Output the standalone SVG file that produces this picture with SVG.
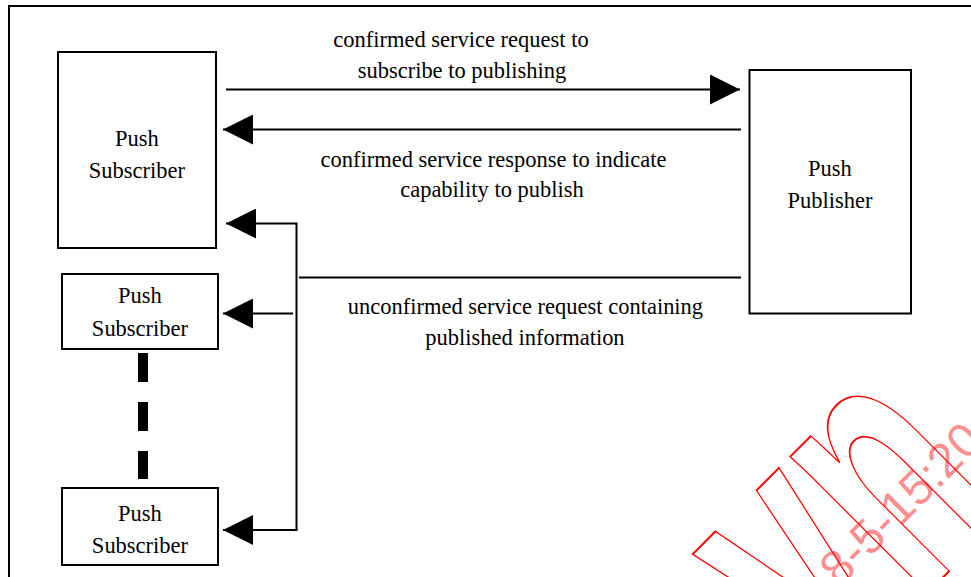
<svg xmlns="http://www.w3.org/2000/svg" width="971" height="577" viewBox="0 0 971 577">
  <defs>
    <style>
      .frame { fill: none; stroke: #000; stroke-width: 2; }
      .box { fill: #fff; stroke: #000; stroke-width: 2; }
      .wire { fill: none; stroke: #000; stroke-width: 2; }
      .lbl { font-family: "Liberation Serif", "Times New Roman", serif; font-size: 24px; fill: #000; text-anchor: middle; }
      .wm-big { font-family: "Liberation Sans", Arial, sans-serif; font-weight: bold; font-size: 366px; fill: none; stroke: #ff0000; stroke-width: 2; }
      .wm-date { font-family: "Liberation Sans", Arial, sans-serif; font-size: 48px; fill: #ff0000; fill-opacity: 0.45; }
    </style>
    <marker id="head" markerUnits="userSpaceOnUse" markerWidth="30" markerHeight="30" viewBox="0 0 28 28" refX="28" refY="14" orient="auto">
      <path d="M0,0 L28,14 L0,28 Z" fill="#000"/>
    </marker>
  </defs>

  <rect width="971" height="577" fill="#fff"/>

  <!-- outer frame (top and left edges) -->
  <path class="frame" d="M9,577 V6 H971"/>

  <!-- connectors -->
  <g id="connectors">
    <line class="wire" x1="226" y1="89.5" x2="740" y2="89.5" marker-end="url(#head)"/>
    <line class="wire" x1="741" y1="129.5" x2="223" y2="129.5" marker-end="url(#head)"/>
    <line class="wire" x1="741" y1="277.5" x2="299" y2="277.5"/>
    <path class="wire" d="M296.5,530 V223.5 H226" marker-end="url(#head)"/>
    <line class="wire" x1="293" y1="313.5" x2="223" y2="313.5" marker-end="url(#head)"/>
    <line class="wire" x1="297.5" y1="530" x2="223" y2="530" marker-end="url(#head)"/>
    <!-- ellipsis between subscriber boxes -->
    <line x1="143" y1="353" x2="143" y2="479" stroke="#000" stroke-width="10" stroke-dasharray="29 20"/>
  </g>

  <!-- message labels -->
  <g id="labels" transform="scale(0.9375 1)">
    <text class="lbl" x="491.7" y="47">confirmed service request to</text>
    <text class="lbl" x="492.8" y="78">subscribe to publishing</text>
    <text class="lbl" x="526.4" y="167">confirmed service response to indicate</text>
    <text class="lbl" x="524.8" y="197">capability to publish</text>
    <text class="lbl" x="560.5" y="314">unconfirmed service request containing</text>
    <text class="lbl" x="560" y="345">published information</text>
  </g>

  <g id="subscriber-main">
    <rect class="box" x="58" y="52" width="158" height="196"/>
    <g transform="scale(0.9375 1)">
      <text class="lbl" x="146.1" y="146">Push</text>
      <text class="lbl" x="146.1" y="178">Subscriber</text>
    </g>
  </g>

  <g id="subscriber-2">
    <rect class="box" x="62" y="274" width="156" height="75"/>
    <g transform="scale(0.9375 1)">
      <text class="lbl" x="149.3" y="303.5">Push</text>
      <text class="lbl" x="149.3" y="336">Subscriber</text>
    </g>
  </g>

  <g id="subscriber-n">
    <rect class="box" x="62" y="488" width="156" height="77"/>
    <g transform="scale(0.9375 1)">
      <text class="lbl" x="149.3" y="521">Push</text>
      <text class="lbl" x="149.3" y="553.5">Subscriber</text>
    </g>
  </g>

  <g id="publisher">
    <rect class="box" x="749.5" y="70" width="161.5" height="243.5"/>
    <g transform="scale(0.9375 1)">
      <text class="lbl" x="885.3" y="176">Push</text>
      <text class="lbl" x="885.3" y="208">Publisher</text>
    </g>
  </g>

  <!-- stamp in the lower right corner -->
  <g id="stamp">
    <text class="wm-big" transform="translate(828.7 691.6) rotate(-45) scale(0.61 1)">vn</text>
    <text class="wm-date" transform="translate(839.5 588) rotate(-45)">8-5-15:20</text>
  </g>
</svg>
